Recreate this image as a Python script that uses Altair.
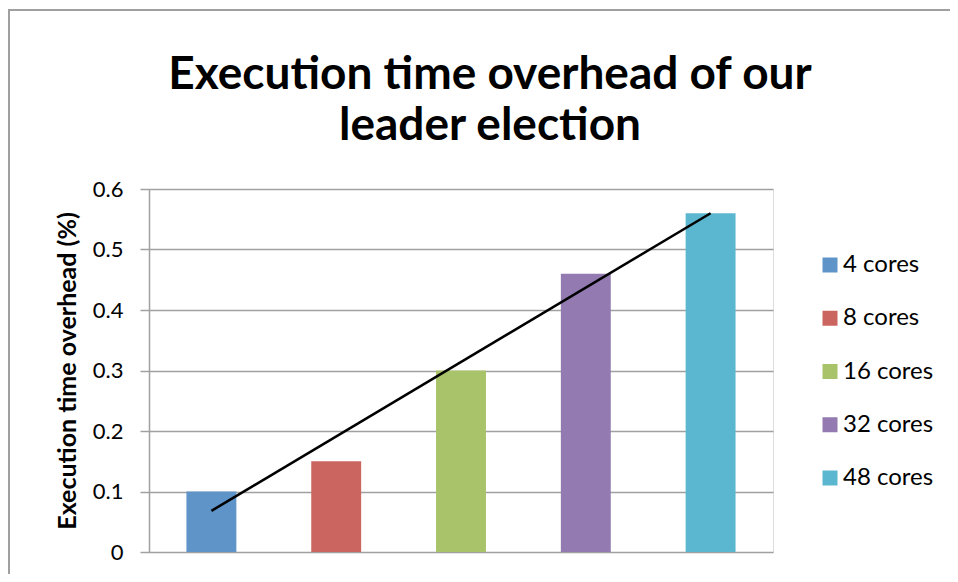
import altair as alt
import pandas as pd

# ---- data ----
categories = ["4 cores", "8 cores", "16 cores", "32 cores", "48 cores"]
values = [0.10, 0.15, 0.30, 0.46, 0.56]
colors = ["#5F94C9", "#CB6560", "#A9C36A", "#937AB0", "#5BB7CF"]
trend_categories = ["4 cores", "48 cores"]
trend_values = [0.068, 0.56]
y_ticks = [0, 0.1, 0.2, 0.3, 0.4, 0.5, 0.6]
title_lines = ["Execution time overhead of our", "leader election"]

FONT = "Lato"
GRID = "#A0A0A0"

bars_df = pd.DataFrame({"cores": categories, "overhead": values})
trend_df = pd.DataFrame({"cores": trend_categories, "overhead": trend_values})
one_df = pd.DataFrame({"k": [0]})

x_enc = alt.X(
    "cores:N",
    sort=categories,
    scale=alt.Scale(domain=categories, paddingInner=0.6, paddingOuter=0.3),
    axis=None,
)

bars = alt.Chart(bars_df).mark_bar().encode(
    x=x_enc,
    y=alt.Y(
        "overhead:Q",
        scale=alt.Scale(domain=[0, 0.6], nice=False),
        axis=alt.Axis(
            values=y_ticks,
            format="~g",
            title="Execution time overhead (%)",
            titleFont=FONT,
            titleFontSize=25,
            titleFontWeight="bold",
            titleColor="#000000",
            titlePadding=12,
            labelFont=FONT,
            labelFontSize=22,
            labelColor="#000000",
            labelPadding=17,
            tickSize=9,
            tickColor=GRID,
            tickWidth=1.5,
            domainColor=GRID,
            domainWidth=1.5,
            gridColor=GRID,
            gridWidth=1.5,
            grid=True,
        ),
    ),
    color=alt.Color(
        "cores:N",
        sort=categories,
        scale=alt.Scale(domain=categories, range=colors),
        legend=alt.Legend(
            title=None,
            orient="none",
            legendX=669,
            legendY=64,
            symbolType="square",
            symbolSize=225,
            symbolStrokeWidth=0,
            labelFont=FONT,
            labelFontSize=24,
            labelColor="#000000",
            rowPadding=29.25,
            labelOffset=1,
        ),
    ),
)

trend = alt.Chart(trend_df).mark_line(color="#000000", strokeWidth=2.5).encode(
    x=alt.X("cores:N", sort=categories),
    y="overhead:Q",
)

frame_top = alt.Chart(one_df).mark_rule(color="#A0A0A0", strokeWidth=2).encode(
    x=alt.value(-141), x2=alt.value(801), y=alt.value(-179)
)
frame_left = alt.Chart(one_df).mark_rule(color="#A0A0A0", strokeWidth=2).encode(
    x=alt.value(-140), y=alt.value(-179), y2=alt.value(400)
)

title_style = dict(
    font=FONT, fontSize=46, fontWeight="bold", color="#000000",
    align="center", baseline="alphabetic",
)
title1 = alt.Chart(one_df).mark_text(text=title_lines[0], **title_style).encode(
    x=alt.value(341), y=alt.value(-100)
)
title2 = alt.Chart(one_df).mark_text(text=title_lines[1], **title_style).encode(
    x=alt.value(341), y=alt.value(-49)
)

chart = (
    alt.layer(frame_top, frame_left, bars, trend, title1, title2)
    .properties(
        width=624,
        height=363,
        padding={"left": 141, "top": 181, "right": 177, "bottom": 22},
        autosize=alt.AutoSizeParams(type="none"),
    )
    .configure_view(stroke=None)
    .configure(background="#FFFFFF")
)

chart.save("out.html", embed_options={"renderer": "svg", "actions": False})
